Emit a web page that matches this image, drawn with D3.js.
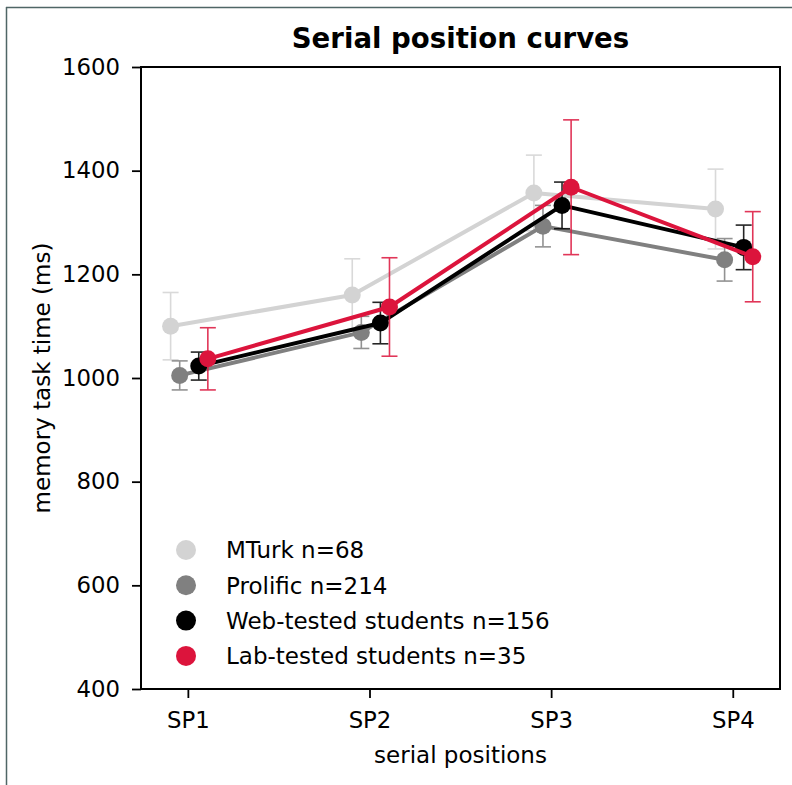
<!DOCTYPE html>
<html><head><meta charset="utf-8">
<script src="https://cdn.jsdelivr.net/npm/d3@7"></script>
<style>
html,body{margin:0;padding:0;background:#fff;}
text{font-family:"DejaVu Sans",sans-serif;fill:#000;}
</style></head>
<body>
<svg id="chart" width="792" height="785"></svg>
<script>
// ---- data ----
const categories = ["SP1", "SP2", "SP3", "SP4"];
const seriesNames = ["MTurk n=68", "Prolific n=214", "Web-tested students n=156", "Lab-tested students n=35"];
const seriesColors = ["#d3d3d3", "#808080", "#000000", "#dc143c"];
const seriesOffsets = [-0.095, -0.045, 0.06, 0.11];
const mturkMean = [1100, 1160, 1357, 1326];
const mturkErr = [65, 70, 73, 77];
const prolificMean = [1005, 1088, 1293, 1228];
const prolificErr = [28, 31, 40, 41];
const webMean = [1023, 1106, 1333, 1252];
const webErr = [27, 40, 45, 43];
const labMean = [1037, 1137, 1368, 1234];
const labErr = [60, 95, 130, 87];
const yTicks = [400, 600, 800, 1000, 1200, 1400, 1600];

const means = [mturkMean, prolificMean, webMean, labMean];
const errs = [mturkErr, prolificErr, webErr, labErr];

const svg = d3.select("#chart");
const L = 141, R = 780, T = 67, B = 689;

// outer frame lines (top & left)
svg.append("line").attr("x1",6).attr("x2",792).attr("y1",7.5).attr("y2",7.5)
  .attr("stroke","#4f6666").attr("stroke-width",1.5);
svg.append("line").attr("x1",6.5).attr("x2",6.5).attr("y1",7).attr("y2",785)
  .attr("stroke","#4f6666").attr("stroke-width",1.5);

const x = d3.scaleLinear().domain([-0.258, 3.26]).range([L, R]);
const y = d3.scaleLinear().domain([400, 1600]).range([B, T]);

// axes
const xAxis = d3.axisBottom(x).tickValues([0,1,2,3]).tickFormat(i => categories[i]).tickSize(9).tickPadding(14);
const yAxis = d3.axisLeft(y).tickValues(yTicks).tickFormat(d3.format("d")).tickSize(9).tickPadding(12);

const gx = svg.append("g").attr("transform", `translate(0,${B})`).call(xAxis);
const gy = svg.append("g").attr("transform", `translate(${L},0)`).call(yAxis);
[gx, gy].forEach(g => {
  g.select(".domain").remove();
  g.selectAll(".tick line").attr("stroke","#000").attr("stroke-width",1.8);
  g.selectAll(".tick text").attr("font-family","DejaVu Sans").attr("font-size","22.8px").attr("fill","#000");
});

// plot frame
svg.append("rect").attr("x",L).attr("y",T).attr("width",R-L).attr("height",B-T)
  .attr("fill","none").attr("stroke","#000").attr("stroke-width",2);

const plot = svg.append("g");
const cap = 8;
means.forEach((m, si) => {
  const col = seriesColors[si];
  const g = plot.append("g");
  const pts = m.map((v, i) => ({xv: i + seriesOffsets[si], v, e: errs[si][i]}));
  // error bars
  const eb = g.selectAll("g.eb").data(pts).join("g").attr("opacity",0.85);
  eb.append("line").attr("x1",d=>x(d.xv)).attr("x2",d=>x(d.xv))
    .attr("y1",d=>y(d.v-d.e)).attr("y2",d=>y(d.v+d.e)).attr("stroke",col).attr("stroke-width",1.6);
  eb.append("line").attr("x1",d=>x(d.xv)-cap).attr("x2",d=>x(d.xv)+cap)
    .attr("y1",d=>y(d.v+d.e)).attr("y2",d=>y(d.v+d.e)).attr("stroke",col).attr("stroke-width",1.6);
  eb.append("line").attr("x1",d=>x(d.xv)-cap).attr("x2",d=>x(d.xv)+cap)
    .attr("y1",d=>y(d.v-d.e)).attr("y2",d=>y(d.v-d.e)).attr("stroke",col).attr("stroke-width",1.6);
  // line
  g.append("path").datum(pts)
    .attr("d", d3.line().x(d=>x(d.xv)).y(d=>y(d.v)))
    .attr("fill","none").attr("stroke",col).attr("stroke-width",4).attr("stroke-linejoin","round");
  // markers
  g.selectAll("circle").data(pts).join("circle")
    .attr("cx",d=>x(d.xv)).attr("cy",d=>y(d.v)).attr("r",8.5).attr("fill",col);
});

// title & labels
svg.append("text").attr("x",(L+R)/2).attr("y",48).attr("text-anchor","middle")
  .attr("font-size","27.6px").attr("font-weight","bold").text("Serial position curves");
svg.append("text").attr("x",(L+R)/2).attr("y",763).attr("text-anchor","middle")
  .attr("font-size","23px").text("serial positions");
svg.append("text").attr("transform",`translate(50,${(T+B)/2}) rotate(-90)`).attr("text-anchor","middle")
  .attr("font-size","23px").text("memory task time (ms)");

// legend
const leg = svg.append("g");
seriesNames.forEach((name, i) => {
  const yy = 550 + i*35.3;
  leg.append("circle").attr("cx",186).attr("cy",yy).attr("r",10).attr("fill",seriesColors[i]);
  leg.append("text").attr("x",226).attr("y",yy).attr("dy","0.36em").attr("font-size","23px").text(name);
});
</script>
</body></html>
